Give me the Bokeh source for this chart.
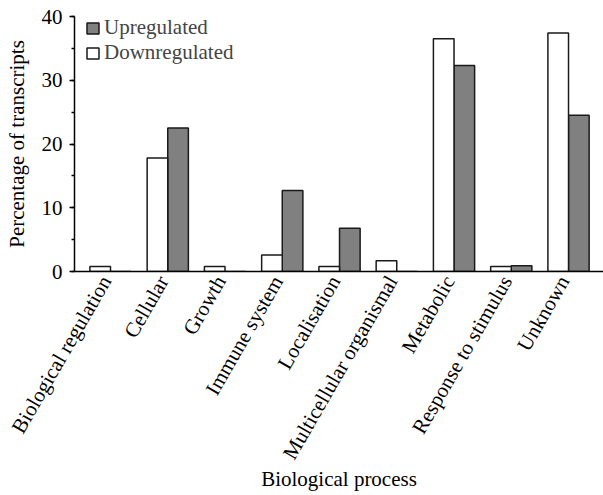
import numpy as np
from bokeh.plotting import figure
from bokeh.models import (ColumnDataSource, Range1d, FixedTicker, SingleIntervalTicker,
                          Legend, LegendItem)
from bokeh.embed import file_html
from bokeh.resources import INLINE

categories = ["Biological regulation", "Cellular", "Growth", "Immune system",
              "Localisation", "Multicellular organismal", "Metabolic",
              "Response to stimulus", "Unknown"]
downregulated = [0.8, 17.8, 0.8, 2.6, 0.8, 1.7, 36.5, 0.8, 37.4]
upregulated = [0.0, 22.5, 0.0, 12.7, 6.8, 0.0, 32.3, 0.9, 24.5]

FONT = "Liberation Serif"
FS = "21px"
BAR_W = 0.36
LABEL_SHIFT = -0.08

idx = np.arange(len(categories))
src = ColumnDataSource(dict(
    x_down=idx - BAR_W / 2,
    x_up=idx + BAR_W / 2,
    down=downregulated,
    up=upregulated,
))

p = figure(frame_width=529, frame_height=255, output_backend="svg", toolbar_location=None,
           x_range=Range1d(-0.629, 8.611), y_range=Range1d(0, 40),
           min_border_left=74, min_border_top=16, min_border_right=0, min_border_bottom=0)
p.outline_line_color = None
p.xgrid.grid_line_color = None
p.ygrid.grid_line_color = None
p.background_fill_color = "white"
p.border_fill_color = "white"

r_up = p.vbar(x="x_up", top="up", width=BAR_W, source=src,
              fill_color="#808080", line_color="#1a1a1a", line_width=1.5)
r_down = p.vbar(x="x_down", top="down", width=BAR_W, source=src,
                fill_color="white", line_color="#1a1a1a", line_width=1.5)

# y axis
ya = p.yaxis[0]
ya.ticker = SingleIntervalTicker(interval=10, num_minor_ticks=2)
ya.axis_label = "Percentage of transcripts"
ya.axis_label_text_font = FONT
ya.axis_label_text_font_size = FS
ya.axis_label_text_font_style = "normal"
ya.axis_label_text_color = "black"
ya.axis_label_standoff = 10
ya.major_label_text_font = FONT
ya.major_label_text_font_size = FS
ya.major_label_text_color = "black"
ya.major_label_standoff = 7
ya.major_tick_in = 0
ya.major_tick_out = 5
ya.minor_tick_in = 0
ya.minor_tick_out = 3
ya.axis_line_width = 1.5
ya.major_tick_line_width = 1.5
ya.minor_tick_line_width = 1.5
ya.axis_line_color = "black"

# x axis
tick_pos = [float(i) + LABEL_SHIFT for i in idx]
xa = p.xaxis[0]
xa.ticker = FixedTicker(ticks=tick_pos)
xa.major_label_overrides = {t: c for t, c in zip(tick_pos, categories)}
xa.major_label_orientation = np.pi / 3
xa.major_label_text_font = FONT
xa.major_label_text_font_size = FS
xa.major_label_text_color = "black"
xa.major_label_standoff = 0
xa.major_tick_line_color = None
xa.minor_tick_line_color = None
xa.axis_line_width = 1.5
xa.axis_line_color = "black"
xa.axis_label = "Biological process"
xa.axis_label_text_font = FONT
xa.axis_label_text_font_size = FS
xa.axis_label_text_font_style = "normal"
xa.axis_label_text_color = "black"
xa.axis_label_standoff = -5

legend = Legend(items=[LegendItem(label="Upregulated", renderers=[r_up]),
                       LegendItem(label="Downregulated", renderers=[r_down])],
                location=(11, 206), padding=0, margin=0, spacing=0,
                glyph_width=15, glyph_height=14, label_height=24, label_standoff=4,
                label_text_font=FONT, label_text_font_size=FS,
                border_line_color=None, background_fill_alpha=0)
p.add_layout(legend, "center")

open("out.html", "w").write(file_html(p, INLINE))
